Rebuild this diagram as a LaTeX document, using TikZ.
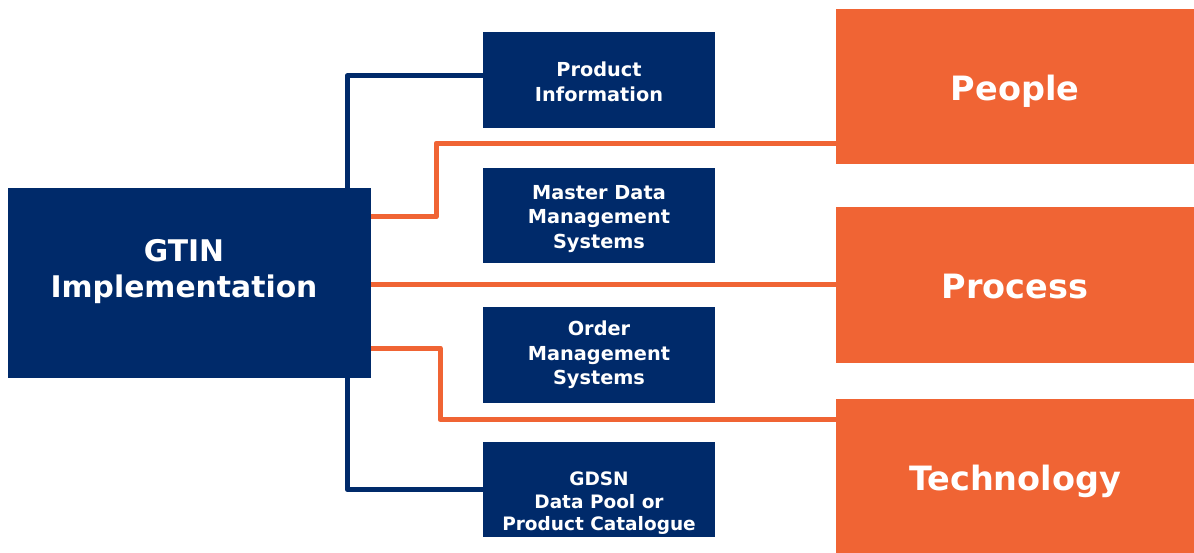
\documentclass[tikz,border=0pt]{standalone}
\usepackage{fontspec}
\setmainfont{DejaVu Sans}
\definecolor{navy}{RGB}{0,42,106}
\definecolor{orng}{RGB}{240,100,52}
\tikzset{
  navybox/.style={fill=navy, draw=none, inner sep=0pt},
  orngbox/.style={fill=orng, draw=none, inner sep=0pt, text=white, font=\bfseries\fontsize{33.5}{40}\selectfont, align=center, text height=28pt, text depth=0pt},
  txt/.style={text=white, inner sep=0pt, align=center},
  smalltxt/.style={txt, font=\bfseries\fontsize{19.3}{24.5}\selectfont},
  navyline/.style={draw=navy, line width=5pt, line join=round},
  orngline/.style={draw=orng, line width=5pt, line join=round},
}
\begin{document}
\begin{tikzpicture}[x=1pt,y=-1pt]
\fill[white] (0,0) rectangle (1194,553);
\useasboundingbox (0,0) rectangle (1194,553);
% main box
\node[navybox, minimum width=363pt, minimum height=190pt] (gtin) at (189.5,283) {};
\node[txt, font=\bfseries\fontsize{29.8}{36}\selectfont] (gtintext) at (184,272) {GTIN\\Implementation};
% middle boxes
\node[navybox, minimum width=232pt, minimum height=96pt] (pi) at (599,80) {};
\node[smalltxt] (pitext) at (599,82) {Product\\Information};
\node[navybox, minimum width=232pt, minimum height=95pt] (mdm) at (599,215.5) {};
\node[smalltxt] (mdmtext) at (599,219) {Master Data\\Management\\Systems};
\node[navybox, minimum width=232pt, minimum height=96pt] (oms) at (599,355) {};
\node[smalltxt] (omstext) at (599,355) {Order\\Management\\Systems};
\node[navybox, minimum width=232pt, minimum height=95pt] (gdsn) at (599,489.5) {};
\node[txt, font=\bfseries\fontsize{18.5}{22.5}\selectfont] (gdsntext) at (599,503.5) {GDSN\\Data Pool or\\Product Catalogue};
% right boxes
\node[orngbox, minimum width=358pt, minimum height=155pt] (people) at (1015,86.5) {People};
\node[orngbox, minimum width=358pt, minimum height=156pt] (process) at (1015,285) {Process};
\node[orngbox, minimum width=358pt, minimum height=154pt] (tech) at (1015,476) {Technology};
% connectors
\draw[navyline] ([xshift=-24pt]gtin.north east) |- ([yshift=4pt]pi.west);
\draw[navyline] ([xshift=-24pt]gtin.south east) |- (gdsn.west);
\draw[orngline] ([yshift=66pt]gtin.east) -- ++(65,0) |- ([yshift=21pt]people.south west);
\draw[orngline] (gtin.east |- process.west) -- (process.west);
\draw[orngline] ([yshift=-65pt]gtin.east) -- ++(69,0) |- ([yshift=-21pt]tech.north west);
\end{tikzpicture}
\end{document}
